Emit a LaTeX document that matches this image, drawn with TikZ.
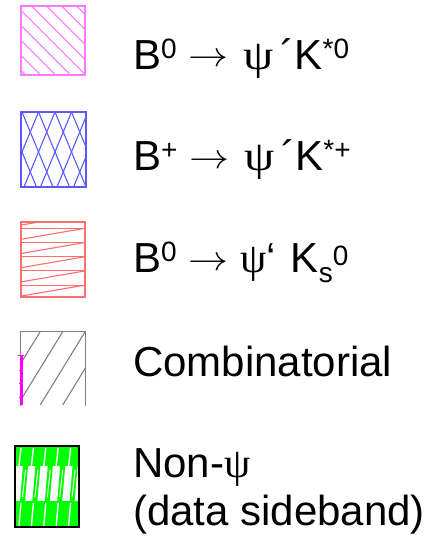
\documentclass[tikz,border=0pt]{standalone}
\usepackage{fontspec}
\setmainfont{Liberation Sans}
\newfontfamily\grk{Liberation Serif}
\definecolor{hpink}{RGB}{255,120,255}
\definecolor{hblue}{RGB}{90,90,255}
\definecolor{hred}{RGB}{255,110,110}
\definecolor{hgray}{RGB}{128,128,128}
\definecolor{hmagenta}{RGB}{255,0,255}
\definecolor{hgreen}{RGB}{0,255,0}
\usetikzlibrary{positioning}
\newcommand{\supr}[2]{\raisebox{#1}{\fontsize{28}{30}\selectfont #2}}
\newcommand{\arr}{\raisebox{2pt}{\fontsize{10}{12}\selectfont\scalebox{4}[3.5]{$\rightarrow$}}}
\newcommand{\wpsi}{\scalebox{1.15}[1]{\grk ψ}}

\begin{document}
\begin{tikzpicture}[x=1pt,y=-1pt,
  legbox/.style={minimum width=64pt, minimum height=73pt, inner sep=0pt, line width=1.2pt},
  hatch/.style={line width=1.1pt},
  legtext/.style={anchor=base west, inner sep=0pt, font=\fontsize{42}{48}\selectfont, align=left}]
  \useasboundingbox (0,0) rectangle (435,538);

  % Hatched legend boxes
  \node[legbox, draw=hpink, minimum height=69pt] (box1) at (53,40.5) {};
  \begin{scope}
    \clip (box1.south west) rectangle (box1.north east);
    \foreach \k in {-5,...,5} \draw[hatch, hpink] ({16.7+15*\k},6) -- ++(69,69);
  \end{scope}

  \node[legbox, draw=hblue, minimum width=65pt, minimum height=75pt] (box2) at (53.5,149.5) {};
  \begin{scope}
    \clip (box2.south west) rectangle (box2.north east);
    \foreach \k in {-2,...,6} {
      \draw[hatch, hblue] ({22+16.5*\k},112) -- ++(31,75);
      \draw[hatch, hblue] ({22+16.5*\k},112) -- ++(-31,75);
    }
  \end{scope}

  \node[legbox, draw=hred, minimum height=75pt] (box3) at (53,259.5) {};
  \begin{scope}
    \clip (box3.south west) rectangle (box3.north east);
    \foreach \k in {0,...,4} \draw[hatch, hred] (21,{228.3+14.2*\k}) -- (85,{228.3+14.2*\k});
    \foreach \k in {-1,...,4} \draw[hatch, hred] (21,{239.3+14.2*\k}) -- (85,{228.3+14.2*\k});
  \end{scope}

  \node[legbox] (box4) at (53,368.5) {};
  \begin{scope}
    \clip (box4.south west) rectangle (box4.north east);
    \foreach \k in {-1,...,3} \draw[hatch, hgray] ({40+22.5*\k},332) -- ++(-44.8,73);
  \end{scope}
  \draw[hgray, line width=1.2pt] (box4.south west) -- (box4.north west) -- (box4.north east) -- (box4.south east);

  % Magenta edge
  \draw[hmagenta, line width=2.5pt] (21.5,355) -- (21.5,405);
  \draw[hmagenta, line width=1pt] (18,355.5) -- (24,355.5);
  \foreach \y in {370,383,397} \draw[hmagenta, line width=1pt] (18.5,\y) -- (21.5,\y);

  % Sideband box
  \node[legbox, fill=hgreen, minimum width=62pt, minimum height=79pt] (box5) at (47,486.5) {};
  \begin{scope}
    \clip (box5.south west) rectangle (box5.north east);
    \fill[white] (15,466) rectangle (80,501);
    \foreach \i in {0,...,4} {
      \fill[hgreen] ({17+12.4*\i+3},501) -- ++(5,0) -- ++(3,-35) -- ++(-5,0) -- cycle;
      \draw[white, line width=1pt] ({17+12.4*\i+5.5},497) -- ++(3,-27);
      \draw[white, line width=1.4pt] ({17+12.4*\i+2},466) -- ++(2,-18);
      \draw[white, line width=1.4pt] ({17+12.4*\i+2},526) -- ++(2,-23);
    }
  \end{scope}
  \draw[black, line width=2pt] (box5.south west) rectangle (box5.north east);

  % Labels
  \node[legtext] (b0kst) at (133,69) {B\supr{11pt}{0} \arr\hspace{15pt}\wpsi\hspace{7pt}´K\supr{11pt}{*0}};
  \node[legtext] (bpkst) at (133,170) {B\supr{11pt}{+} \arr\hspace{15pt}\wpsi\hspace{7pt}´K\supr{11pt}{*+}};
  \node[legtext] (b0ks) at (133,272) {B\supr{11pt}{0} \arr{} {\grk ψ}‘\hspace{15pt}K\raisebox{-10pt}{\fontsize{28}{30}\selectfont s}\supr{7pt}{0}};
  \node[legtext] (comb) at (133,376) {Combinatorial};
  \node[legtext] (nonpsi) at (133,525) {Non-{\grk ψ}\\(data sideband)};
\end{tikzpicture}
\end{document}
